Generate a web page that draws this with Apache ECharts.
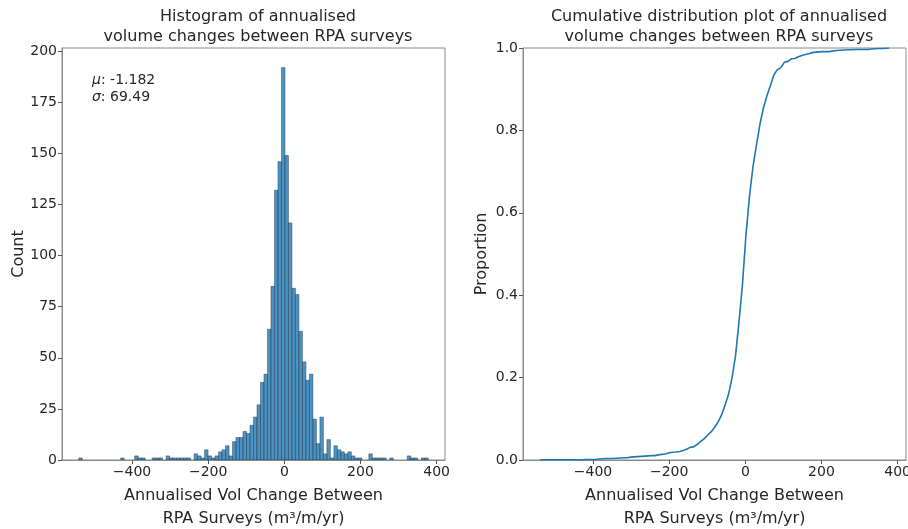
<!DOCTYPE html>
<html>
<head>
<meta charset="utf-8">
<script src="https://cdn.jsdelivr.net/npm/echarts@6/dist/echarts.min.js"></script>
<style>
  html, body { margin: 0; padding: 0; background: #fff; }
  #chart { width: 908px; height: 529px; }
</style>
</head>
<body>
<div id="chart"></div>
<script>
// histogram bins
const binStart = -540;
const binWidth = 9.18;
const counts = [
  1, 0, 0, 0, 0, 0, 0, 0, 0, 0, 0, 0, 1, 0, 0, 0, 2, 1, 1, 0,
  0, 1, 1, 1, 0, 2, 1, 1, 1, 1, 1, 1, 0, 3, 2, 1,
  5, 2, 1, 2, 4, 5, 7, 2, 9, 11, 11, 14, 13, 17, 21, 27, 38, 42, 64, 85, 132, 146,
  192,
  149, 116, 84, 81, 63, 48, 39, 42, 20, 8, 21, 3, 10, 1, 7, 5, 4, 3, 4, 2, 1,
  1, 0, 0, 3, 1, 1, 1, 1, 0, 1, 0, 0, 0, 0, 2, 1, 1, 0, 1, 1
];
const xTicks = [-400, -200, 0, 200, 400];
const countTicks = [0, 25, 50, 75, 100, 125, 150, 175, 200];
const propTicks = [0, 0.2, 0.4, 0.6, 0.8, 1.0];
const statMu = '-1.182';
const statSigma = '69.49';

// bars: [left edge, right edge, count]
const bars = [];
counts.forEach((c, i) => {
  if (c > 0) bars.push([binStart + i * binWidth, binStart + (i + 1) * binWidth, c]);
});

// cumulative proportion at each bin edge
const total = counts.reduce((a, b) => a + b, 0);
const cdf = [[binStart, 0]];
let run = 0;
counts.forEach((c, i) => {
  run += c;
  cdf.push([binStart + (i + 1) * binWidth, run / total]);
});

const FONT = 'DejaVu Sans';
const TXT = '#262626';
const FRAME = '#8a8a8a';
const minusFmt = v => (v < 0 ? '\u2212' + Math.abs(v) : String(v));
const xName = 'Annualised Vol Change Between\nRPA Surveys (m\u00b3/m/yr)';

function xAxisFor(gridIndex) {
  return {
    type: 'value', gridIndex: gridIndex, min: -584, max: 422,
    splitLine: { show: false },
    axisLine: { show: true, onZero: false, lineStyle: { color: FRAME, width: 1 } },
    axisTick: { show: true, length: 4, customValues: xTicks, lineStyle: { color: '#555' } },
    axisLabel: { customValues: xTicks, formatter: minusFmt, color: TXT, fontFamily: FONT, fontSize: 14, margin: 5 },
    name: xName, nameLocation: 'middle', nameGap: 20,
    nameTextStyle: { color: TXT, fontFamily: FONT, fontSize: 16, lineHeight: 23, verticalAlign: 'top' }
  };
}

function yAxisFor(gridIndex, max, ticks, fmt, name, gap) {
  return {
    type: 'value', gridIndex: gridIndex, min: 0, max: max,
    splitLine: { show: false },
    axisLine: { show: true, onZero: false, lineStyle: { color: FRAME, width: 1 } },
    axisTick: { show: true, length: 4, customValues: ticks, lineStyle: { color: '#555' } },
    axisLabel: { customValues: ticks, formatter: fmt, color: TXT, fontFamily: FONT, fontSize: 14, margin: 5 },
    name: name, nameLocation: 'middle', nameGap: gap,
    nameTextStyle: { color: TXT, fontFamily: FONT, fontSize: 16 }
  };
}

const chart = echarts.init(document.getElementById('chart'), null, { renderer: 'canvas' });
chart.setOption({
  animation: false,
  backgroundColor: '#fff',
  title: [
    { text: 'Histogram of annualised\nvolume changes between RPA surveys', left: 253, top: 2, textAlign: 'center',
      textStyle: { fontFamily: FONT, fontSize: 16, fontWeight: 'normal', color: TXT, lineHeight: 20 } },
    { text: 'Cumulative distribution plot of annualised\nvolume changes between RPA surveys', left: 714, top: 2, textAlign: 'center',
      textStyle: { fontFamily: FONT, fontSize: 16, fontWeight: 'normal', color: TXT, lineHeight: 20 } }
  ],
  grid: [
    { left: 62, top: 48, width: 383, height: 412, show: true, borderColor: FRAME, borderWidth: 1, outerBoundsMode: 'none' },
    { left: 523, top: 48, width: 383, height: 412, show: true, borderColor: FRAME, borderWidth: 1, outerBoundsMode: 'none' }
  ],
  xAxis: [xAxisFor(0), xAxisFor(1)],
  yAxis: [
    yAxisFor(0, 201.6, countTicks, v => String(v), 'Count', 34),
    yAxisFor(1, 1, propTicks, v => v.toFixed(1), 'Proportion', 33)
  ],
  graphic: [
    {
      type: 'text', left: 92, top: 72,
      style: {
        text: '{i|\u03bc}: ' + statMu + '\n{i|\u03c3}: ' + statSigma,
        fontFamily: FONT, fontSize: 14, fill: TXT, lineHeight: 17,
        rich: { i: { fontStyle: 'italic', fontFamily: FONT, fontSize: 14, fill: TXT } }
      }
    }
  ],
  series: [
    {
      type: 'custom', xAxisIndex: 0, yAxisIndex: 0, clip: true,
      data: bars,
      encode: { x: [0, 1], y: 2 },
      renderItem: function (params, api) {
        const p0 = api.coord([api.value(0), api.value(2)]);
        const p1 = api.coord([api.value(1), 0]);
        return {
          type: 'rect',
          shape: { x: p0[0], y: p0[1], width: p1[0] - p0[0], height: p1[1] - p0[1] },
          style: { fill: 'rgba(31,119,180,0.8)', stroke: 'rgba(40,55,70,0.75)', lineWidth: 0.6 }
        };
      }
    },
    {
      type: 'line', xAxisIndex: 1, yAxisIndex: 1,
      data: cdf, showSymbol: false, smooth: false,
      lineStyle: { color: '#1f77b4', width: 1.6 }
    }
  ]
});
</script>
</body>
</html>
